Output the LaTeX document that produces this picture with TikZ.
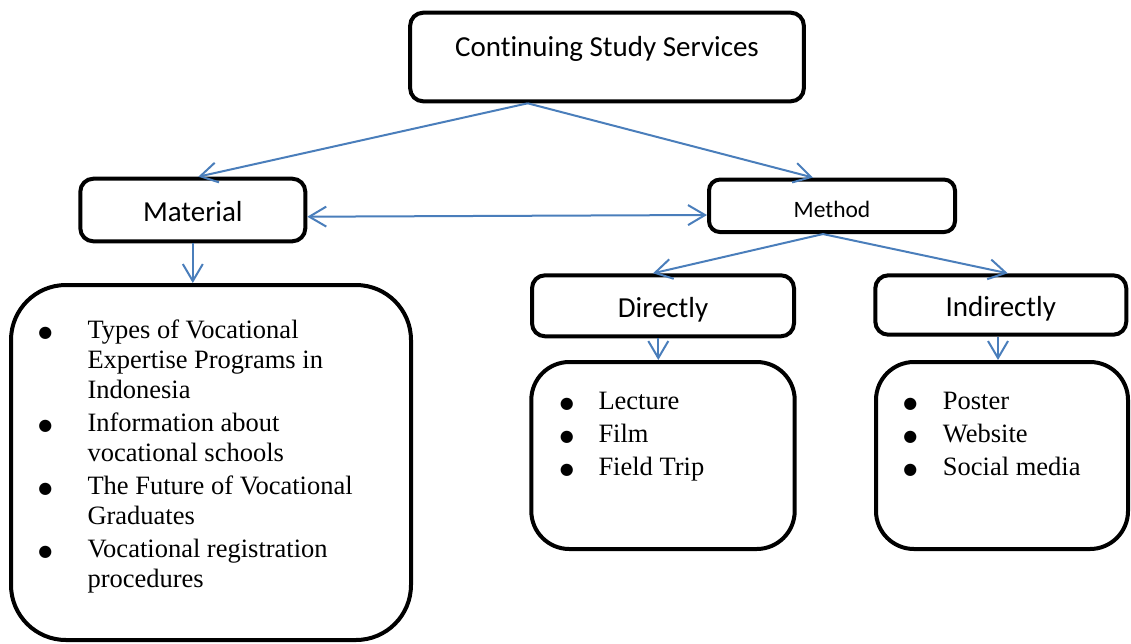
\documentclass[tikz,border=0pt]{standalone}
\usepackage{fontspec}
\setmainfont{Liberation Serif}
\newfontfamily\calibrifont[Ligatures=NoCommon]{Carlito}
\newfontfamily\dotfont{DejaVu Sans}
\usepackage{tikz}
\usetikzlibrary{arrows.meta, positioning, calc}
\definecolor{linkblue}{HTML}{4A7EBB}
\newcommand{\blt}{\makebox[9.3pt]{\raisebox{1.2pt}{\dotfont\fontsize{16}{16}\selectfont ●}}}

\begin{document}
\begin{tikzpicture}[
x=1pt, y=-1pt,
>={Straight Barb[length=17pt, width=20pt]},
head/.style={rectangle, draw, line width=4pt, rounded corners=13pt, align=center, inner sep=0pt, font=\calibrifont\fontsize{29}{35}\selectfont, text height=26pt, text depth=3pt},
listbox/.style={rectangle, draw, line width=4pt, inner sep=0pt, rounded corners=38pt},
itemtext/.style={anchor=north west, inner sep=0pt, font=\fontsize{26.5}{30}\selectfont},
arrow/.style={->, draw=linkblue, line width=2pt}
]
\useasboundingbox (0,0) rectangle (1131,643);

\node[head, minimum width=393.7pt, minimum height=88.6pt, text height=20pt, text depth=22pt] (services) at (607,57) {Continuing Study Services};
\node[head, minimum width=225pt, minimum height=62.6pt] (material) at (192.8,210) {Material};
\node[head, minimum width=246pt, minimum height=52.5pt, rounded corners=11pt, font=\calibrifont\fontsize{23.5}{28}\selectfont] (method) at (832,205.8) {Method};
\node[head, minimum width=262pt, minimum height=61pt] (directly) at (663,305.8) {Directly};
\node[head, minimum width=251pt, minimum height=59.4pt] (indirectly) at (1000.8,305) {Indirectly};

\node[listbox, minimum width=400pt, minimum height=355pt, rounded corners=55pt] (materiallist) at (211,462.5) {};
\node[listbox, minimum width=263.4pt, minimum height=187pt] (directlylist) at (663,455.5) {};
\node[listbox, minimum width=252pt, minimum height=187pt] (indirectlylist) at (1002,455.5) {};

\node[itemtext] (materialitems) at (40.4,317) {\begin{tabular}{@{}p{46.9pt}@{}l@{}}
\blt & Types of Vocational\\
 & Expertise Programs in\\
 & Indonesia\\[3pt]
\blt & Information about\\
 & vocational schools\\[3pt]
\blt & The Future of Vocational\\
 & Graduates\\[3pt]
\blt & Vocational registration\\
 & procedures
\end{tabular}};
\node[itemtext] (directlyitems) at (562,388) {\begin{tabular}{@{}p{36.3pt}@{}l@{}}
\blt & Lecture\\[3pt]
\blt & Film\\[3pt]
\blt & Field Trip
\end{tabular}};
\node[itemtext] (indirectlyitems) at (905.4,388) {\begin{tabular}{@{}p{37.3pt}@{}l@{}}
\blt & Poster\\[3pt]
\blt & Website\\[3pt]
\blt & Social media
\end{tabular}};

\draw[arrow] ($(services.south)+(-79.3,0)$) -- ($(material.north)+(5.5,0)$);
\draw[arrow] ($(services.south)+(-79.3,0)$) -- ($(method.north)+(-19,0)$);
\draw[arrow, <->] ($(material.east)+(0,6.7)$) -- ($(method.west)+(0,9.2)$);
\draw[arrow] ($(method.south)+(-9,0)$) -- ($(directly.north)+(-10,0)$);
\draw[arrow] ($(method.south)+(-9,0)$) -- ($(indirectly.north)+(7,0)$);
\draw[arrow] (material.south) -- (material.south |- materiallist.north);
\draw[arrow] ([xshift=-4.7pt]directly.south) -- ([xshift=-4.7pt]directlylist.north);
\draw[arrow] ([xshift=-2.8pt]indirectly.south) -- ([xshift=-2.8pt]indirectly.south |- indirectlylist.north);

\end{tikzpicture}
\end{document}
